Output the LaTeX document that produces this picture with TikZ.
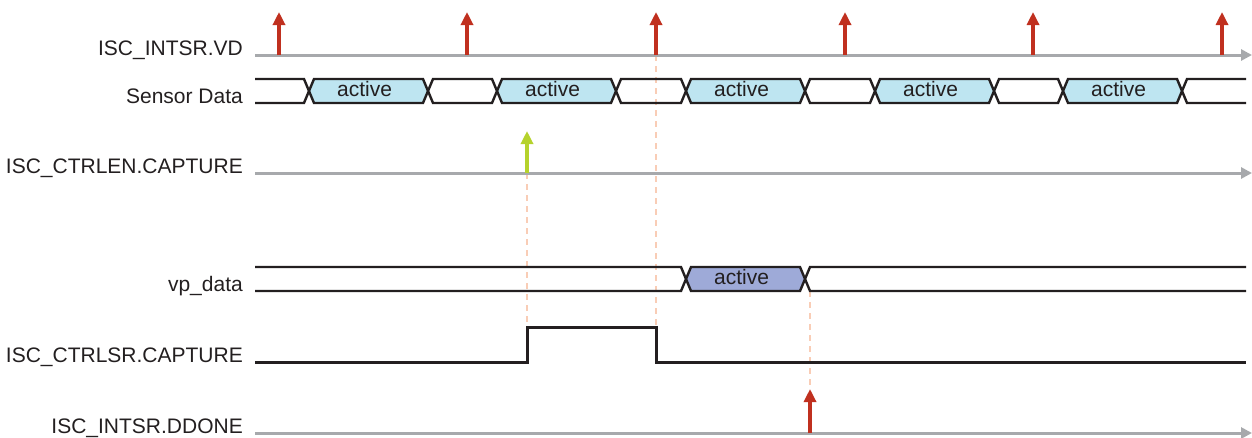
\documentclass[tikz,border=0pt]{standalone}
\usepackage{fontspec}
\setmainfont{Liberation Sans}
\usetikzlibrary{arrows.meta}
\definecolor{txt}{HTML}{231F20}
\definecolor{axisgray}{HTML}{A7A9AC}
\definecolor{evred}{HTML}{C0301F}
\definecolor{evgreen}{HTML}{B5D22C}
\definecolor{peach}{HTML}{F9CDB6}
\definecolor{actblue}{HTML}{BEE5F1}
\definecolor{actviolet}{HTML}{9EAAD8}
\tikzset{
  lbl/.style={anchor=base east, inner sep=0pt, text=txt, font=\fontsize{21}{25}\selectfont},
  acttxt/.style={inner sep=0pt, text=txt, font=\fontsize{21}{25}\selectfont, xshift=-4pt, yshift=2pt},
  axis/.style={draw=axisgray, line width=3pt, -{Triangle[length=11pt,width=11pt]}},
  bus/.style={draw=txt, line width=2.4pt, line join=miter},
  sig/.style={draw=txt, line width=3pt},
  evup/.style={draw=evred, line width=3.2pt, -{Triangle[length=13pt,width=12pt]}},
  evupg/.style={draw=evgreen, line width=3.2pt, -{Triangle[length=13pt,width=12pt]}},
  guide/.style={draw=peach, line width=2.6pt, dash pattern=on 6pt off 5pt},
}
\begin{document}
\begin{tikzpicture}[x=1pt,y=-1pt]
\useasboundingbox (0,0) rectangle (1252,437);

% labels
\node[lbl] (lvd) at (243,55) {ISC\_INTSR.VD};
\node[lbl] (lsd) at (243,103) {Sensor Data};
\node[lbl] (len) at (243,173) {ISC\_CTRLEN.CAPTURE};
\node[lbl] (lvp) at (243,291) {vp\_data};
\node[lbl] (lsr) at (243,362) {ISC\_CTRLSR.CAPTURE};
\node[lbl] (ldd) at (243,433) {ISC\_INTSR.DDONE};

% coordinates
\coordinate (vdS) at (255,55);   \coordinate (vdE) at (1252,55);
\coordinate (enS) at (255,173);  \coordinate (enE) at (1252,173);
\coordinate (ddS) at (255,433);  \coordinate (ddE) at (1252,433);

% guide lines (behind)
\coordinate (g1a) at (527,173); \coordinate (g1b) at (527,327);
\coordinate (g2a) at (656,55);  \coordinate (g2b) at (656,327);
\coordinate (g3a) at (810,291); \coordinate (g3b) at (810,389);
\draw[guide] (g1a) -- (g1b);
\draw[guide] (g2a) -- (g2b);
\draw[guide] (g3a) -- (g3b);

% axes
\draw[axis] (vdS) -- (vdE);
\draw[axis] (enS) -- (enE);
\draw[axis] (ddS) -- (ddE);

% VD events
\foreach \x [count=\i] in {279,467,656,845,1033,1222}{
  \coordinate (vdb\i) at (\x,55);
  \coordinate (vdt\i) at (\x,12);
  \draw[evup] (vdb\i) -- (vdt\i);
}

% Sensor Data bus
\def\T{79}\def\B{103}\def\M{91}\def\h{5}
\foreach \a/\b [count=\i] in {309/428,497/616,686/805,875/994,1063/1182}{
  \path[bus, fill=actblue] (\a,\M) -- (\a+\h,\T) -- (\b-\h,\T) -- (\b,\M) -- (\b-\h,\B) -- (\a+\h,\B) -- cycle;
  \node[acttxt] (sda\i) at ({(\a+\b)/2},\M) {active};
}
\foreach \a/\b in {428/497,616/686,805/875,994/1063}{
  \path[bus] (\a,\M) -- (\a+\h,\T) -- (\b-\h,\T) -- (\b,\M) -- (\b-\h,\B) -- (\a+\h,\B) -- cycle;
}
\path[bus] (255,\T) -- (309-\h,\T) -- (309,\M) -- (309-\h,\B) -- (255,\B);
\path[bus] (1246,\T) -- (1182+\h,\T) -- (1182,\M) -- (1182+\h,\B) -- (1246,\B);

% CTRLEN event
\coordinate (enb) at (527,173); \coordinate (ent) at (527,131);
\draw[evupg] (enb) -- (ent);

% vp_data bus
\def\T{267}\def\B{291}\def\M{279}
\path[bus, fill=actviolet] (686,\M) -- (686+\h,\T) -- (805-\h,\T) -- (805,\M) -- (805-\h,\B) -- (686+\h,\B) -- cycle;
\node[acttxt] (vpa) at (745.5,\M) {active};
\path[bus] (255,\T) -- (686-\h,\T) -- (686,\M) -- (686-\h,\B) -- (255,\B);
\path[bus] (1246,\T) -- (805+\h,\T) -- (805,\M) -- (805+\h,\B) -- (1246,\B);

% CTRLSR pulse
\draw[sig] (255,362) -- (527,362) -- (527,327) -- (656,327) -- (656,362) -- (1246,362);

% DDONE event
\coordinate (ddb) at (810,433); \coordinate (ddt) at (810,389);
\draw[evup] (ddb) -- (ddt);
\end{tikzpicture}
\end{document}
